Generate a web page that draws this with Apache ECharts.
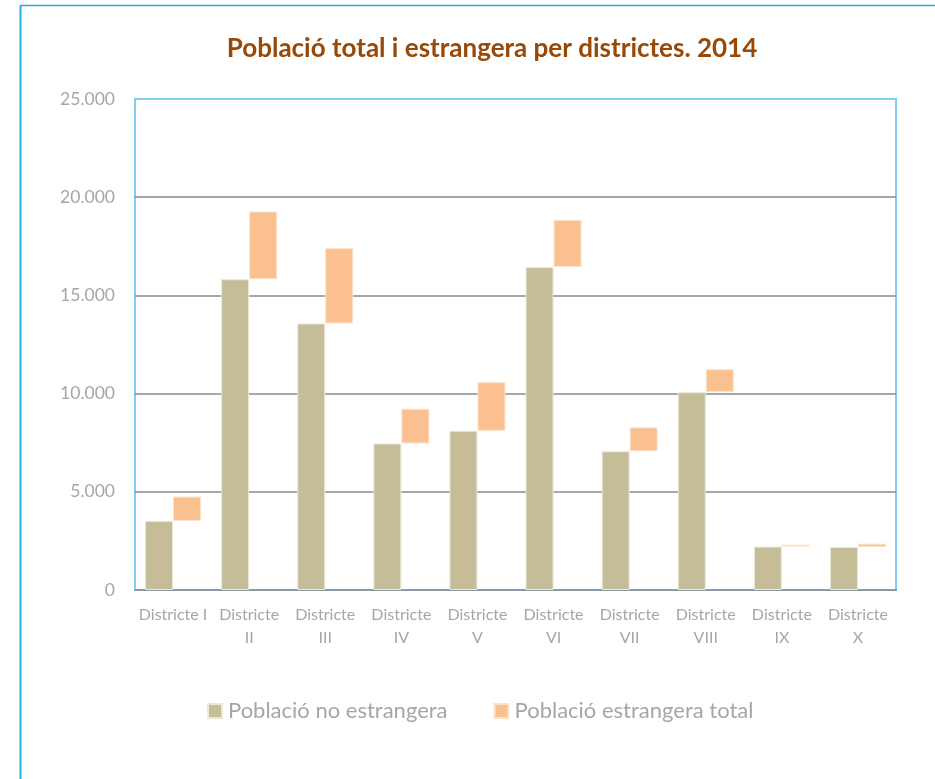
<!DOCTYPE html>
<html>
<head>
<meta charset="utf-8">
<script src="https://cdn.jsdelivr.net/npm/echarts@6/dist/echarts.min.js"></script>
<style>
  html, body { margin: 0; padding: 0; background: #fff; }
  #chartmain { width: 935px; height: 779px; }
</style>
</head>
<body>
<div id="chartmain"></div>
<script>
var districtes = ['Districte I', 'Districte II', 'Districte III', 'Districte IV', 'Districte V',
  'Districte VI', 'Districte VII', 'Districte VIII', 'Districte IX', 'Districte X']
// població no estrangera (base de cada columna)
var noEstrangera = [3520, 15820, 13570, 7460, 8110, 16440, 7060, 10070, 2210, 2190]
// població estrangera, es dibuixa a sobre, desplaçada a la dreta
var estrangera = [1240, 3450, 3840, 1770, 2470, 2410, 1220, 1170, 100, 170]
var yTicks = [0, 5000, 10000, 15000, 20000, 25000]

var labelColor = '#a6a6a6'
var font = 'Lato, "Open Sans", sans-serif'

function fmtMiles(v) {
  return String(v).replace(/\B(?=(\d{3})+(?!\d))/g, '.')
}

var option = {
  backgroundColor: '#fff',
  animation: false,
  title: {
    text: 'Població total i estrangera per districtes. 2014',
    left: 487,
    textAlign: 'center',
    top: 31,
    textStyle: {
      color: '#984807',
      fontSize: 26,
      fontWeight: 'bold',
      fontFamily: font,
    },
  },
  graphic: [
    {
      type: 'line',
      shape: { x1: 20.5, y1: 5, x2: 20.5, y2: 779 },
      style: { stroke: '#1cb5ea', lineWidth: 2 },
    },
    {
      type: 'line',
      shape: { x1: 20, y1: 5.5, x2: 935, y2: 5.5 },
      style: { stroke: '#33a6d4', lineWidth: 1.5 },
    },
  ],
  legend: {
    data: ['Població no estrangera', 'Població estrangera total'],
    left: 202,
    top: 695,
    icon: 'rect',
    itemWidth: 14,
    itemHeight: 14,
    itemGap: 46,
    textStyle: {
      color: labelColor,
      fontSize: 22,
      fontFamily: font,
      padding: [0, 0, 0, 1],
    },
  },
  grid: {
    left: 135,
    right: 39,
    top: 99,
    bottom: 189,
    show: true,
    borderColor: '#7fcff4',
    borderWidth: 2,
  },
  xAxis: {
    type: 'category',
    data: districtes,
    axisLine: { show: true, lineStyle: { color: '#8c9aa6', width: 2 } },
    axisTick: { show: false },
    axisLabel: {
      color: labelColor,
      fontSize: 16,
      fontFamily: font,
      margin: 13,
      lineHeight: 23,
      interval: 0,
      formatter: function (v, i) {
        return i === 0 ? v : v.replace(' ', '\n')
      },
    },
  },
  yAxis: {
    type: 'value',
    min: yTicks[0],
    max: yTicks[yTicks.length - 1],
    interval: yTicks[1] - yTicks[0],
    axisLine: { show: false },
    axisTick: { show: false },
    axisLabel: {
      color: labelColor,
      fontSize: 17.5,
      fontFamily: font,
      margin: 20,
      formatter: function (v) { return fmtMiles(v) },
    },
    splitLine: {
      show: true,
      showMinLine: false,
      showMaxLine: false,
      lineStyle: { color: '#8a8a8a', width: 1.5 },
    },
  },
  series: [
    {
      name: 'Població no estrangera',
      type: 'bar',
      stack: 'a',
      barWidth: 28,
      barGap: '0%',
      itemStyle: { color: '#c4bd97', borderColor: '#ece8d6', borderWidth: 1 },
      data: noEstrangera,
    },
    {
      name: 'base',
      type: 'bar',
      stack: 'b',
      barWidth: 28,
      silent: true,
      itemStyle: { color: 'rgba(0,0,0,0)' },
      data: noEstrangera,
    },
    {
      name: 'Població estrangera total',
      type: 'bar',
      stack: 'b',
      barWidth: 28,
      itemStyle: { color: '#fac090', borderColor: '#fde3cc', borderWidth: 1 },
      data: estrangera,
    },
  ],
}

var myChart = echarts.init(document.getElementById('chartmain'))
myChart.setOption(option)
</script>
</body>
</html>
